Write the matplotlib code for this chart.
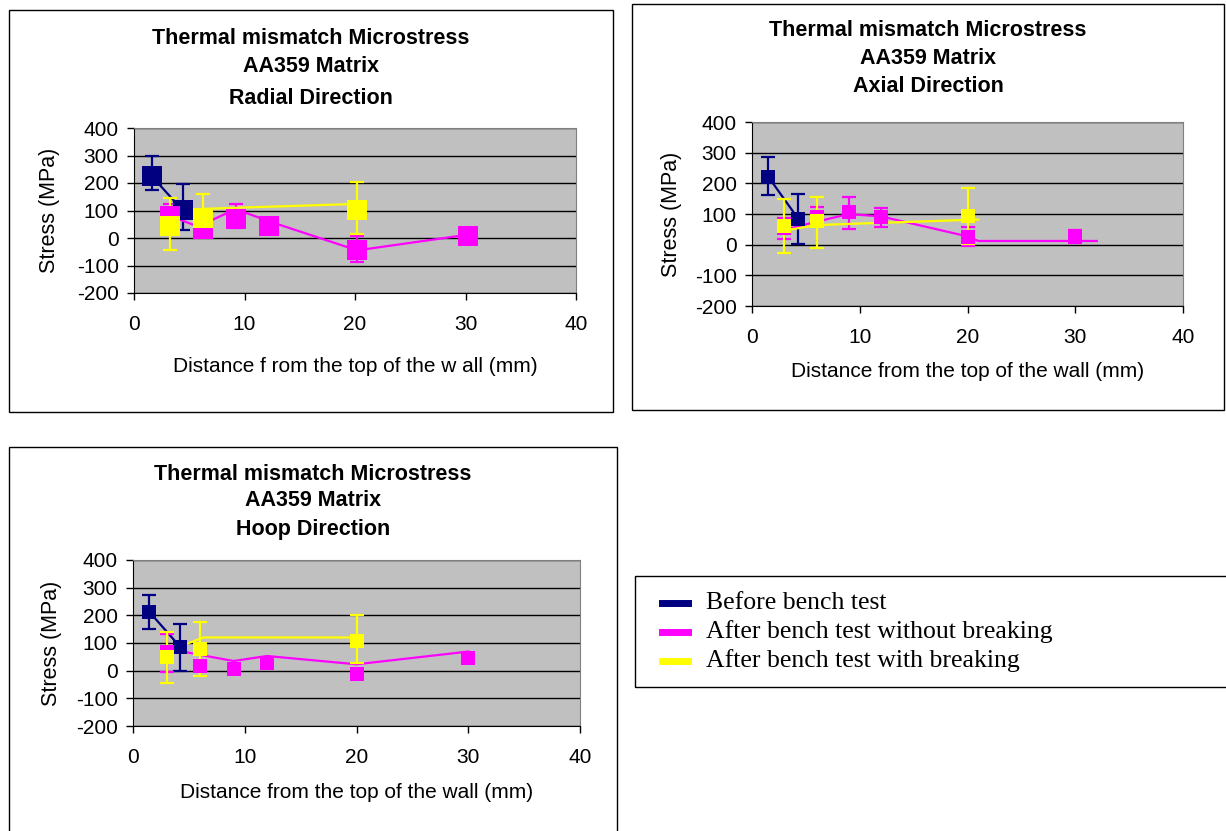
import matplotlib.pyplot as plt
from matplotlib.patches import Rectangle
from matplotlib.lines import Line2D

NAVY = '#000080'
MAGENTA = '#FF00FF'
YELLOW = '#FFFF00'

series_names = ['Before bench test',
                'After bench test without breaking',
                'After bench test with breaking']

# ---- radial direction ----
rad_before_x = [1.6, 4.4]
rad_before_y = [225, 101]
rad_before_lo = [176, 30]
rad_before_hi = [300, 197]
rad_before_line_x = [1.6, 4.4]
rad_before_line_y = [225, 101]

rad_without_x = [3.3, 6.2, 9.2, 12.2, 20.2, 30.2]
rad_without_y = [80, 34, 70, 44, -44, 7]
rad_without_lo = [38, 24, 35, 34, -89, -3]
rad_without_hi = [122, 44, 125, 54, 6, 17]
rad_without_line_x = [3.3, 5.8, 9.2, 12.2, 20.2, 30.2]
rad_without_line_y = [79, 42, 105, 61, -45, 12]

rad_with_x = [3.3, 6.2, 20.2]
rad_with_y = [44, 72, 102]
rad_with_lo = [-45, 20, 13]
rad_with_hi = [145, 159, 204]
rad_with_line_x = [3.3, 6.2, 20.2]
rad_with_line_y = [77, 106, 124]

# ---- axial direction ----
ax_before_x = [1.5, 4.3]
ax_before_y = [222, 84]
ax_before_lo = [162, 1]
ax_before_hi = [286, 165]
ax_before_line_x = [1.5, 4.3]
ax_before_line_y = [222, 84]

ax_without_x = [3, 6, 9, 12, 20, 30]
ax_without_y = [53, 90, 105, 89, 25, 26]
ax_without_lo = [18, 60, 52, 58, -3, 4]
ax_without_hi = [88, 122, 156, 119, 58, 48]
ax_without_line_x = [3, 6, 9, 12, 20, 21, 32]
ax_without_line_y = [48, 75, 100, 92, 27, 12, 12]

ax_with_x = [3, 6, 20]
ax_with_y = [61, 77, 94]
ax_with_lo = [-28, -11, 3]
ax_with_hi = [150, 156, 185]
ax_with_line_x = [3, 6, 21]
ax_with_line_y = [46, 64, 82]

# ---- hoop direction ----
hp_before_x = [1.45, 4.2]
hp_before_y = [213, 87]
hp_before_lo = [151, 0]
hp_before_hi = [273, 169]
hp_before_line_x = [1.45, 4.2]
hp_before_line_y = [213, 87]

hp_without_x = [3, 6, 9, 12, 20, 30]
hp_without_y = [69, 18, 5, 29, -12, 45]
hp_without_lo = [-4, 8, -5, 19, -22, 35]
hp_without_hi = [133, 28, 15, 39, -2, 55]
hp_without_line_x = [3, 6, 9, 12, 20, 30]
hp_without_line_y = [81, 57, 35, 53, 23, 69]

hp_with_x = [3, 6, 20]
hp_with_y = [51, 77, 107]
hp_with_lo = [-43, -18, 27]
hp_with_hi = [141, 177, 201]
hp_with_line_x = [3, 6.3, 20]
hp_with_line_y = [69, 120, 120]

x_ticks = [0, 10, 20, 30, 40]
y_ticks = [-200, -100, 0, 100, 200, 300, 400]

W, H = 1226, 831
plt.rcParams['font.family'] = ['Liberation Sans', 'DejaVu Sans']
plt.rcParams['axes.unicode_minus'] = False
fig = plt.figure(figsize=(W / 100, H / 100), dpi=100)


def fx(px):
    return px / W


def fy(py):
    return 1 - py / H


def box(x0, y0, x1, y1):
    fig.patches.append(Rectangle((fx(x0), fy(y1)), fx(x1) - fx(x0), fy(y0) - fy(y1),
                                 transform=fig.transFigure, fill=False,
                                 edgecolor='black', linewidth=1.0))


def panel(area, title, title_ys, title_cx, xlabel, xlabel_y, ylabel_x, series, msize):
    left, top, right, bottom = area
    ax = fig.add_axes([fx(left), fy(bottom), fx(right) - fx(left), fy(top) - fy(bottom)])
    ax.set_facecolor('#C0C0C0')
    for xs, ys, lo, hi, lx, ly, col in series:
        ax.plot(lx, ly, color=col, linewidth=1.6, zorder=3)
        yerr = [[y - l for y, l in zip(ys, lo)], [h - y for y, h in zip(ys, hi)]]
        ax.errorbar(xs, ys, yerr=yerr, fmt='none', ecolor=col, elinewidth=1.6,
                    capsize=5, capthick=1.6, zorder=3)
        ax.plot(xs, ys, linestyle='none', marker='s', markersize=msize,
                color=col, markeredgewidth=0, zorder=4)
    ax.set_xlim(0, 40)
    ax.set_ylim(-200, 400)
    ax.set_xticks(x_ticks)
    ax.set_yticks(y_ticks)
    ax.yaxis.grid(True, color='black', linewidth=1.0)
    ax.set_axisbelow(True)
    ax.tick_params(direction='out', length=5, width=1, labelsize=15, pad=6)
    ax.tick_params(axis='x', pad=10.5)
    for s in ['top', 'right']:
        ax.spines[s].set_color('#808080')
    for s in ['left', 'bottom']:
        ax.spines[s].set_color('black')
    for line, yy in zip(title.split('\n'), title_ys):
        fig.text(fx(title_cx), fy(yy), line, ha='center', va='center',
                 fontsize=15.5, fontweight='bold')
    fig.text(fx((left + right) / 2), fy(xlabel_y), xlabel, ha='center', va='center',
             fontsize=15)
    fig.text(fx(ylabel_x), fy((top + bottom) / 2), 'Stress (MPa)', ha='center',
             va='center', rotation=90, fontsize=15.5)
    return ax


# radial
box(9, 10, 613, 412)
panel((134, 128, 576, 293),
      'Thermal mismatch Microstress\nAA359 Matrix\nRadial Direction',
      [38, 67, 98], 311, 'Distance f rom the top of the w all (mm)', 366, 50,
      [(rad_before_x, rad_before_y, rad_before_lo, rad_before_hi,
        rad_before_line_x, rad_before_line_y, NAVY),
       (rad_without_x, rad_without_y, rad_without_lo, rad_without_hi,
        rad_without_line_x, rad_without_line_y, MAGENTA),
       (rad_with_x, rad_with_y, rad_with_lo, rad_with_hi,
        rad_with_line_x, rad_with_line_y, YELLOW)], 14)

# axial
box(632, 4, 1224, 410)
panel((752, 122, 1183, 306),
      'Thermal mismatch Microstress\nAA359 Matrix\nAxial Direction',
      [31, 58, 86], 928, 'Distance from the top of the wall (mm)', 372, 672,
      [(ax_before_x, ax_before_y, ax_before_lo, ax_before_hi,
        ax_before_line_x, ax_before_line_y, NAVY),
       (ax_without_x, ax_without_y, ax_without_lo, ax_without_hi,
        ax_without_line_x, ax_without_line_y, MAGENTA),
       (ax_with_x, ax_with_y, ax_with_lo, ax_with_hi,
        ax_with_line_x, ax_with_line_y, YELLOW)], 9.5)

# hoop
box(9, 447, 617, 833)
panel((133, 560, 580, 726),
      'Thermal mismatch Microstress\nAA359 Matrix\nHoop Direction',
      [474, 501, 529], 313, 'Distance from the top of the wall (mm)', 793, 52,
      [(hp_before_x, hp_before_y, hp_before_lo, hp_before_hi,
        hp_before_line_x, hp_before_line_y, NAVY),
       (hp_without_x, hp_without_y, hp_without_lo, hp_without_hi,
        hp_without_line_x, hp_without_line_y, MAGENTA),
       (hp_with_x, hp_with_y, hp_with_lo, hp_with_hi,
        hp_with_line_x, hp_with_line_y, YELLOW)], 10.5)

# shared legend
box(635, 576, 1228, 687)
for name, col, yy in zip(series_names, [NAVY, MAGENTA, YELLOW], [603, 632, 661]):
    fig.lines.append(Line2D([fx(662), fx(688)], [fy(yy), fy(yy)], transform=fig.transFigure,
                            color=col, linewidth=5))
    fig.text(fx(706), fy(yy), name, ha='left', va='center', fontsize=18.5,
             family=['Liberation Serif', 'DejaVu Serif'])

fig.savefig('out.png', dpi=100)
